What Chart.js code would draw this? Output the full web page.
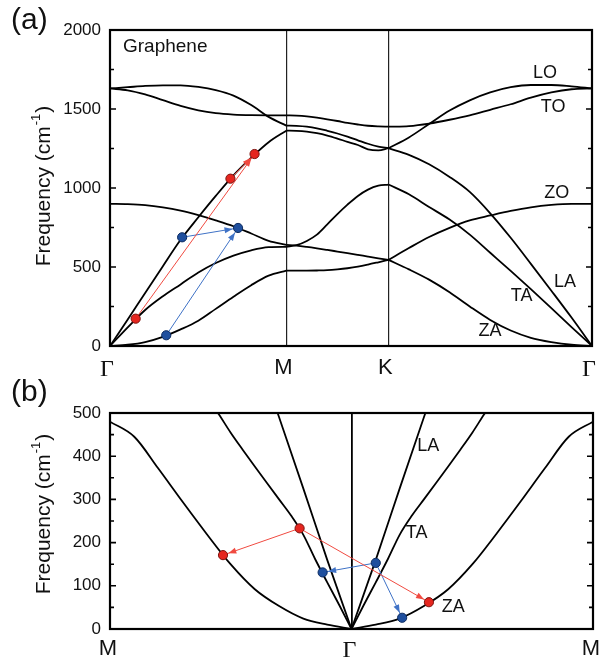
<!DOCTYPE html>
<html>
<head>
<title>Graphene phonon dispersion</title>
<script src="https://cdn.jsdelivr.net/npm/chart.js"></script>
<style>
  body { margin: 0; background: #fff; }
  #wrapA { position: absolute; left: 0; top: 0; width: 600px; height: 385px; }
  #wrapB { position: absolute; left: 0; top: 370px; width: 600px; height: 294px; }
</style>
</head>
<body>
<div id="wrapA"><canvas id="chartA"></canvas></div>
<div id="wrapB"><canvas id="chartB"></canvas></div>

<script>
// high-symmetry points along the path (Gamma-M = 0.577)
const posG = 0, posM = 0.577, posK = 0.911, posG2 = 1.577;
const pathTicks = [posG, posM, posK, posG2];
const pathLabels = ['Γ', 'M', 'K', 'Γ'];

// sample positions on each segment
const qGM = [0, 0.058, 0.115, 0.173, 0.231, 0.289, 0.346, 0.404, 0.462, 0.519, 0.577];
const qMK = [0.577, 0.610, 0.644, 0.677, 0.711, 0.744, 0.777, 0.811, 0.844, 0.878, 0.911];
const qKG = [0.911, 0.978, 1.044, 1.111, 1.177, 1.244, 1.311, 1.377, 1.444, 1.510, 1.577];

// branch frequencies (cm-1)
const LO_GM = [1630, 1638, 1646, 1650, 1650, 1640, 1620, 1585, 1525, 1450, 1395];
const LO_MK = [1395, 1393, 1388, 1378, 1362, 1345, 1325, 1302, 1280, 1262, 1252];
const LO_KG = [1252, 1320, 1405, 1490, 1555, 1605, 1638, 1652, 1652, 1643, 1630];

const TO_GM = [1630, 1618, 1592, 1556, 1520, 1492, 1474, 1465, 1461, 1460, 1460];
const TO_MK = [1460, 1458, 1453, 1445, 1435, 1424, 1412, 1402, 1394, 1390, 1388];
const TO_KG = [1388, 1392, 1408, 1432, 1460, 1495, 1530, 1572, 1605, 1625, 1630];

const LA_GM = [0, 168, 336, 505, 672, 815, 950, 1080, 1192, 1290, 1363];
const LA_MK = [1363, 1362, 1357, 1347, 1332, 1313, 1292, 1272, 1245, 1238, 1252];
const LA_KG = [1252, 1210, 1150, 1070, 975, 840, 685, 520, 350, 180, 0];

const TA_GM = [0, 118, 228, 315, 390, 465, 525, 572, 606, 626, 628];
const TA_MK = [628, 638, 665, 705, 770, 835, 895, 950, 990, 1015, 1022];
const TA_KG = [1022, 960, 880, 800, 705, 590, 475, 360, 240, 120, 0];

const ZO_GM = [900, 898, 892, 878, 857, 828, 795, 758, 712, 665, 640];
const ZO_MK = [640, 635, 627, 618, 608, 598, 588, 577, 566, 555, 545];
const ZO_KG = [545, 620, 690, 748, 795, 826, 855, 878, 893, 900, 900];

const ZA_GM = [0, 8, 25, 58, 105, 160, 235, 312, 385, 445, 477];
const ZA_MK = [477, 477, 477, 478, 480, 485, 492, 502, 515, 530, 545];
const ZA_KG = [545, 485, 420, 340, 250, 165, 98, 52, 25, 8, 0];

// scattering points in panel (a)
const redQA = [0.084, 0.394, 0.473];
const redFA = [173, 1059, 1215];
const blueQA = [0.184, 0.236, 0.419];
const blueFA = [68, 688, 747];
const redArrowsA = [[0, 2], [1, 2]];
const blueArrowsA = [[0, 2], [1, 2]];

// panel (b): zoom around Gamma, M-Gamma-M
const qB_ZA = [0, 0.058, 0.115, 0.173, 0.231, 0.289, 0.346, 0.404, 0.462, 0.519, 0.577];
const ZA_B = [0, 10, 24, 53, 92, 150, 220, 295, 372, 445, 480];
const qB_TA = [0, 0.029, 0.058, 0.087, 0.115, 0.144, 0.173, 0.202, 0.231, 0.260, 0.289, 0.317, 0.346];
const TA_B = [0, 55, 108, 162, 218, 262, 300, 338, 376, 415, 455, 497, 538];
const qB_LA = [0, 0.058, 0.115, 0.173, 0.202];
const LA_B = [0, 160, 325, 490, 572];

const redQB = [-0.307, -0.124, 0.185];
const redFB = [171, 233, 62];
const blueQB = [0.058, -0.069, 0.121];
const blueFB = [153, 131, 26];
const redArrowsB = [[1, 0], [1, 2]];
const blueArrowsB = [[0, 1], [0, 2]];

const bLabels = ['M', 'Γ', 'M'];
const bTicks = [-0.577, 0, 0.577];

const SANS = '"Liberation Sans", Arial, Helvetica, sans-serif';
const SERIF = '"Liberation Serif", "Times New Roman", serif';
const RED = '#e5261f', RED_EDGE = '#7d1410', RED_LINE = '#f04a40';
const BLUE = '#1f4f9e', BLUE_EDGE = '#0b2a60', BLUE_LINE = '#3f72c6';

function curve(qs, fs, sign) {
  let pts = qs.map((q, i) => ({x: sign * q, y: fs[i]}));
  if (sign < 0) pts = pts.reverse();
  return {
    data: pts, borderColor: '#000', borderWidth: 1.8, pointRadius: 0,
    cubicInterpolationMode: 'monotone', fill: false, order: 3
  };
}

function markers(qs, fs, fill, edge) {
  return {
    data: qs.map((q, i) => ({x: q, y: fs[i]})), showLine: false,
    pointRadius: 4.6, pointBackgroundColor: fill, pointBorderColor: edge,
    pointBorderWidth: 1, order: 0
  };
}

function arrowSets(pairs, qs, fs, color) {
  return pairs.map(p => ({
    data: [{x: qs[p[0]], y: fs[p[0]]}, {x: qs[p[1]], y: fs[p[1]]}],
    borderColor: color, borderWidth: 1, pointRadius: 0, order: 1
  }));
}

function arrowHeads(pairs, qs, fs, color) {
  return pairs.map(p => ({
    from: {x: qs[p[0]], y: fs[p[0]]}, to: {x: qs[p[1]], y: fs[p[1]]}, color: color
  }));
}

function drawYTitle(ctx, cx, cy, size) {
  ctx.save();
  ctx.translate(cx, cy);
  ctx.rotate(-Math.PI / 2);
  ctx.fillStyle = '#111';
  ctx.textBaseline = 'middle';
  ctx.textAlign = 'left';
  const main = size + 'px ' + SANS, sup = Math.round(size * 0.62) + 'px ' + SANS;
  ctx.font = main; const w1 = ctx.measureText('Frequency (cm').width;
  ctx.font = sup; const w2 = ctx.measureText('-1').width;
  ctx.font = main; const w3 = ctx.measureText(')').width;
  const x0 = -(w1 + w2 + w3) / 2;
  ctx.fillText('Frequency (cm', x0, 0);
  ctx.font = sup; ctx.fillText('-1', x0 + w1 + 1, -size * 0.38);
  ctx.font = main; ctx.fillText(')', x0 + w1 + w2 + 2, 0);
  ctx.restore();
}

const decor = {
  id: 'decor',
  afterDatasetsDraw(chart, args, o) {
    const {ctx, scales: {x, y}} = chart;
    ctx.save();
    o.arrows.forEach(ar => {
      const x0 = x.getPixelForValue(ar.from.x), y0 = y.getPixelForValue(ar.from.y);
      const x1 = x.getPixelForValue(ar.to.x), y1 = y.getPixelForValue(ar.to.y);
      const len = Math.hypot(x1 - x0, y1 - y0), ux = (x1 - x0) / len, uy = (y1 - y0) / len;
      const tx = x1 - ux * 5.6, ty = y1 - uy * 5.6;
      const bx = tx - ux * 8, by = ty - uy * 8;
      ctx.beginPath();
      ctx.moveTo(tx, ty);
      ctx.lineTo(bx - uy * 3, by + ux * 3);
      ctx.lineTo(bx + uy * 3, by - ux * 3);
      ctx.closePath();
      ctx.fillStyle = ar.color;
      ctx.fill();
    });
    ctx.restore();
  },
  afterDraw(chart, args, o) {
    const {ctx, chartArea: a, scales: {x, y}} = chart;
    ctx.save();
    // inward tick marks on both vertical edges
    ctx.strokeStyle = '#000';
    ctx.lineWidth = 1.6;
    y.ticks.forEach(t => {
      const py = y.getPixelForValue(t.value);
      const l = t.value % o.major === 0 ? 6 : 4;
      ctx.beginPath();
      ctx.moveTo(a.left, py); ctx.lineTo(a.left + l, py);
      ctx.moveTo(a.right, py); ctx.lineTo(a.right - l, py);
      ctx.stroke();
    });
    // frame
    ctx.lineWidth = 2.2;
    ctx.strokeRect(a.left, a.top, a.right - a.left, a.bottom - a.top);
    // branch labels
    ctx.fillStyle = '#111';
    ctx.textBaseline = 'middle';
    o.labels.forEach(lb => {
      ctx.font = lb.size + 'px ' + SANS;
      ctx.textAlign = lb.align || 'center';
      ctx.fillText(lb.text, x.getPixelForValue(lb.x), y.getPixelForValue(lb.y));
    });
    // panel letter
    ctx.font = '30px ' + SANS;
    ctx.textAlign = 'left';
    ctx.fillText(o.letter, 11, o.letterY);
    drawYTitle(ctx, 44, o.titleY, 21);
    ctx.restore();
  }
};

function makeChart(id, datasets, xOpts, yOpts, pad, xHeight, decorOpts) {
  return new Chart(document.getElementById(id), {
    type: 'line',
    data: {datasets: datasets},
    options: {
      responsive: true, maintainAspectRatio: false, animation: false, events: [],
      layout: {padding: pad},
      plugins: {legend: {display: false}, tooltip: {enabled: false}, decor: decorOpts},
      scales: {
        x: Object.assign({
          type: 'linear',
          border: {display: false},
          afterFit: s => { s.height = xHeight; s.paddingLeft = 0; s.paddingRight = 0; }
        }, xOpts),
        y: Object.assign({
          type: 'linear',
          border: {display: false},
          grid: {display: false, drawTicks: false},
          afterFit: s => { s.width = 110; }
        }, yOpts)
      }
    },
    plugins: [decor]
  });
}

// ---------- panel (a) ----------
const segQ = [qGM, qMK, qKG];
const bandsA = [
  [LO_GM, LO_MK, LO_KG], [TO_GM, TO_MK, TO_KG], [LA_GM, LA_MK, LA_KG],
  [TA_GM, TA_MK, TA_KG], [ZO_GM, ZO_MK, ZO_KG], [ZA_GM, ZA_MK, ZA_KG]
];
const setsA = [];
bandsA.forEach(segs => segs.forEach((vals, s) => setsA.push(curve(segQ[s], vals, 1))));
setsA.push(...arrowSets(redArrowsA, redQA, redFA, RED_LINE));
setsA.push(...arrowSets(blueArrowsA, blueQA, blueFA, BLUE_LINE));
setsA.push(markers(redQA, redFA, RED, RED_EDGE));
setsA.push(markers(blueQA, blueFA, BLUE, BLUE_EDGE));

makeChart('chartA', setsA,
  {
    min: posG, max: posG2,
    afterBuildTicks: s => { s.ticks = pathTicks.map(v => ({value: v})); },
    grid: {
      drawTicks: false,
      color: c => (c.tick && (c.tick.value === posM || c.tick.value === posK)) ? '#222' : 'rgba(0,0,0,0)',
      lineWidth: 1.2
    },
    ticks: {
      autoSkip: false, maxRotation: 0, padding: 9, labelOffset: -3, color: '#111',
      callback: (v, i) => pathLabels[i],
      font: c => (c.index === 0 || c.index === 3) ? {family: SERIF, size: 24} : {family: SANS, size: 22}
    }
  },
  {
    min: 0, max: 2000,
    ticks: {
      stepSize: 250, autoSkip: false, padding: 9, color: '#111',
      font: {family: SANS, size: 17},
      callback: v => (v % 500 === 0 ? v : '')
    }
  },
  {top: 30, right: 8, bottom: 0, left: 0}, 39,
  {
    major: 500, letter: '(a)', letterY: 21, titleY: 187,
    arrows: [...arrowHeads(redArrowsA, redQA, redFA, RED_LINE), ...arrowHeads(blueArrowsA, blueQA, blueFA, BLUE_LINE)],
    labels: [
      {text: 'Graphene', x: 0.0425, y: 1892, size: 19, align: 'left'},
      {text: 'LO', x: 1.423, y: 1730, size: 18},
      {text: 'TO', x: 1.450, y: 1515, size: 18},
      {text: 'ZO', x: 1.462, y: 966, size: 18},
      {text: 'LA', x: 1.489, y: 407, size: 18},
      {text: 'TA', x: 1.347, y: 318, size: 18},
      {text: 'ZA', x: 1.243, y: 97, size: 18}
    ]
  });

// ---------- panel (b) ----------
const setsB = [];
[1, -1].forEach(sg => {
  setsB.push(curve(qB_ZA, ZA_B, sg));
  setsB.push(curve(qB_TA, TA_B, sg));
  setsB.push(curve(qB_LA, LA_B, sg));
});
setsB.push(...arrowSets(redArrowsB, redQB, redFB, RED_LINE));
setsB.push(...arrowSets(blueArrowsB, blueQB, blueFB, BLUE_LINE));
setsB.push(markers(redQB, redFB, RED, RED_EDGE));
setsB.push(markers(blueQB, blueFB, BLUE, BLUE_EDGE));

makeChart('chartB', setsB,
  {
    min: -0.577, max: 0.577,
    afterBuildTicks: s => { s.ticks = bTicks.map(v => ({value: v})); },
    grid: {
      drawTicks: false,
      color: c => (c.tick && c.tick.value === 0) ? '#000' : 'rgba(0,0,0,0)',
      lineWidth: 1.8
    },
    ticks: {
      autoSkip: false, maxRotation: 0, padding: 7, labelOffset: -2, color: '#111',
      callback: (v, i) => bLabels[i],
      font: c => (c.index === 1) ? {family: SERIF, size: 24} : {family: SANS, size: 22}
    }
  },
  {
    min: 0, max: 500,
    ticks: {
      stepSize: 50, autoSkip: false, padding: 9, color: '#111',
      font: {family: SANS, size: 17},
      callback: v => (v % 100 === 0 ? v : '')
    }
  },
  {top: 43, right: 7, bottom: 0, left: 0}, 35,
  {
    major: 100, letter: '(b)', letterY: 23, titleY: 145,
    arrows: [...arrowHeads(redArrowsB, redQB, redFB, RED_LINE), ...arrowHeads(blueArrowsB, blueQB, blueFB, BLUE_LINE)],
    labels: [
      {text: 'LA', x: 0.1835, y: 424, size: 18},
      {text: 'TA', x: 0.1557, y: 221, size: 18},
      {text: 'ZA', x: 0.243, y: 50, size: 18}
    ]
  });
</script>
</body>
</html>
